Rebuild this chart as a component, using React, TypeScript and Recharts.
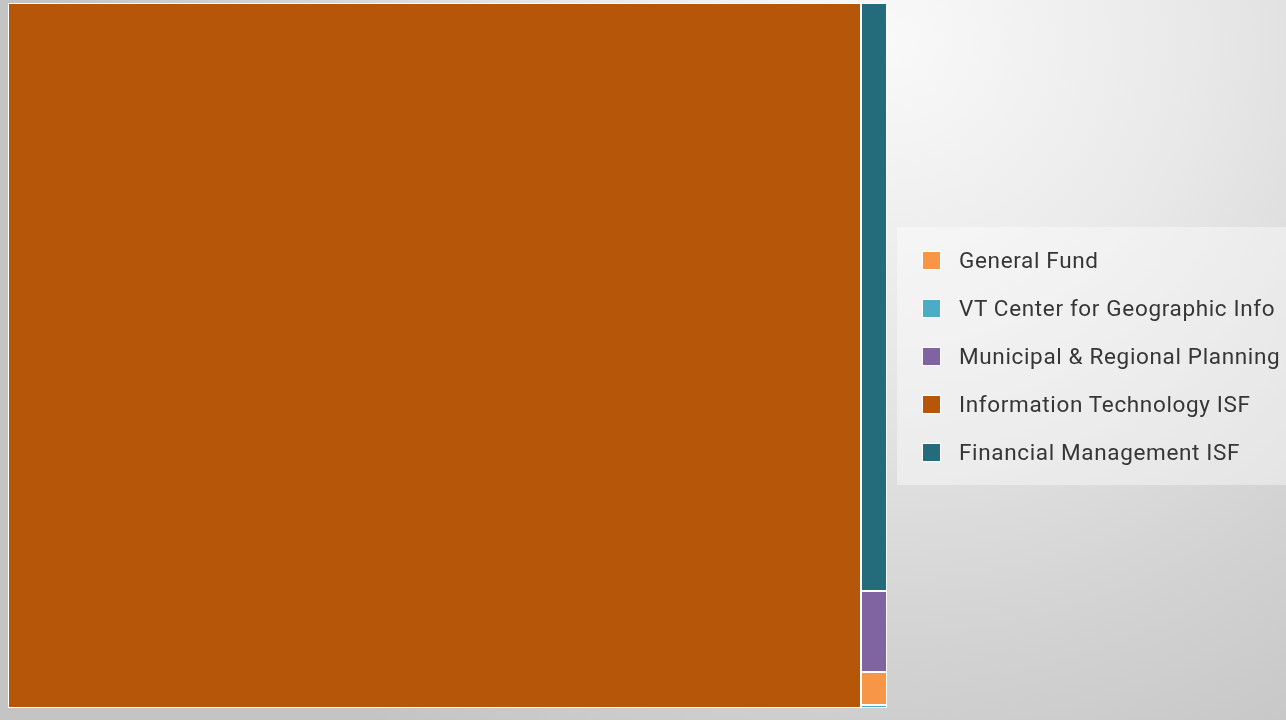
import React from "react";
import { Treemap } from "recharts";

const categories = [
  "Information Technology ISF",
  "Financial Management ISF",
  "Municipal & Regional Planning",
  "General Fund",
  "VT Center for Geographic Info",
];
const values = [97040, 2469, 340, 138, 10];
const colors = ["#B65608", "#246B7C", "#8064A2", "#F79646", "#4BACC6"];

const legendOrder = [
  "General Fund",
  "VT Center for Geographic Info",
  "Municipal & Regional Planning",
  "Information Technology ISF",
  "Financial Management ISF",
];

const data = categories.map((name, i) => ({ name, size: values[i], color: colors[i] }));

const colorOf = (name: string) => colors[categories.indexOf(name)] || "#999";

const Cell = (props: any) => {
  const { x, y, width, height, depth, name } = props;
  if (depth !== 1) return null;
  return (
    <rect
      x={x}
      y={y}
      width={width}
      height={height}
      fill={colorOf(name)}
      stroke="#ffffff"
      strokeWidth={2}
    />
  );
};

export default function App() {
  return (
    <div
      style={{
        position: "fixed",
        left: 0,
        top: 0,
        width: 1286,
        height: 720,
        overflow: "hidden",
        background:
          "radial-gradient(circle at 890px 40px, #f9f9f9 0px, #e9e9e9 300px, #d3d3d3 600px, #c4c4c4 850px)",
        fontFamily: "Roboto, 'Noto Sans', sans-serif",
      }}
    >
      <div style={{ position: "absolute", left: 8, top: 3 }}>
        <Treemap
          width={879}
          height={705}
          data={data}
          dataKey="size"
          nameKey="name"
          stroke="#fff"
          isAnimationActive={false}
          content={<Cell />}
        />
      </div>
      <div
        style={{
          position: "absolute",
          left: 897,
          top: 227,
          width: 389,
          height: 258,
          background: "rgba(255,255,255,0.4)",
        }}
      >
        {legendOrder.map((name, i) => (
          <div
            key={name}
            style={{
              position: "absolute",
              left: 25,
              top: 33 + i * 48 - 14,
              height: 28,
              display: "flex",
              alignItems: "center",
              whiteSpace: "nowrap",
            }}
          >
            <div
              style={{
                width: 17,
                height: 17,
                background: colorOf(name),
                border: "1px solid #ffffff",
                marginRight: 18,
              }}
            />
            <span style={{ fontSize: 22.5, color: "#363636", letterSpacing: 0.65 }}>{name}</span>
          </div>
        ))}
      </div>
    </div>
  );
}
